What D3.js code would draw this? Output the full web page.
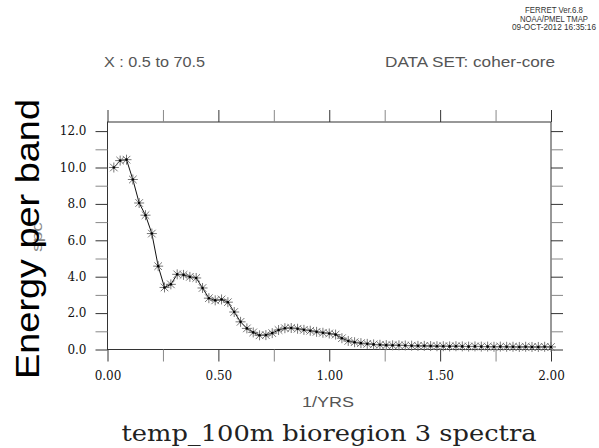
<!DOCTYPE html>
<html><head><meta charset="utf-8">
<script src="https://cdn.jsdelivr.net/npm/d3@7"></script>
<style>html,body{margin:0;padding:0;background:#fff;}svg{display:block;}
.tick text{font-family:"DejaVu Serif",serif !important;font-size:12px;}</style>
</head><body>
<script>
// ---- data ----
const freqIndex = d3.range(1, 71);            // 70 spectral bands (X : 0.5 to 70.5)
const freqStep = 1 / 35;                      // 1/YRS per band
const spcValues = [
  10.0, 10.38, 10.43, 9.34, 8.05, 7.38, 6.37, 4.58, 3.41, 3.58,
  4.13, 4.10, 3.99, 3.93, 3.38, 2.82, 2.70, 2.75, 2.60, 2.06,
  1.52, 1.16, 0.94, 0.78, 0.79, 0.90, 1.07, 1.17, 1.18, 1.14,
  1.08, 1.03, 0.97, 0.92, 0.88, 0.82, 0.62, 0.47, 0.40, 0.35,
  0.31, 0.28, 0.26, 0.24, 0.23, 0.23, 0.22, 0.21, 0.20, 0.20,
  0.19, 0.18, 0.18, 0.17, 0.18, 0.17, 0.16, 0.17, 0.16, 0.16,
  0.15, 0.16, 0.15, 0.15, 0.14, 0.15, 0.14, 0.14, 0.15, 0.14
];
const xTicks = [0, 0.25, 0.5, 0.75, 1.0, 1.25, 1.5, 1.75, 2.0];
const xLabels = [0, 0.5, 1.0, 1.5, 2.0];
const yTicks = d3.range(0, 13, 1);
const yLabels = [0, 2, 4, 6, 8, 10, 12];
const title = "temp_100m bioregion 3 spectra";
const xAxisLabel = "1/YRS";
const yAxisLabel = "spc";
const overlayLabel = "Energy per band";
const headerLeft = "X : 0.5 to 70.5";
const headerRight = "DATA SET: coher-core";
const ferretLines = ["FERRET  Ver.6.8", "NOAA/PMEL TMAP", "09-OCT-2012 16:35:16"];

const W = 599, H = 448;
const L = 107.5, R = 551, T = 122, B = 349.5;

const svg = d3.select("body").append("svg").attr("width", W).attr("height", H);

const x = d3.scaleLinear().domain([0, 2]).range([L, R]);
const y = d3.scaleLinear().domain([0, 12.5]).range([B, T]);

const data = freqIndex.map((k, i) => ({ f: k * freqStep, v: spcValues[i] }));

// frame
svg.append("rect").attr("x", L).attr("y", T).attr("width", R - L).attr("height", B - T)
  .attr("fill", "none").attr("stroke", "#333").attr("stroke-width", 1);

const isMajorX = d => xLabels.some(v => Math.abs(v - d) < 1e-9);
const isMajorY = d => yLabels.includes(d);
const serif = "DejaVu Serif";

function styleAxis(g, major) {
  g.attr("font-family", serif).attr("font-size", 12);
  g.select(".domain").remove();
  g.selectAll(".tick line").attr("stroke", d => major(d) ? "#333" : "#888");
  g.selectAll(".tick text").attr("font-family", serif).attr("fill", "#111");
}

svg.append("g").attr("transform", `translate(0,${B})`)
  .call(d3.axisBottom(x).tickValues(xTicks).tickSize(12).tickPadding(10)
    .tickFormat(d => isMajorX(d) ? d3.format(".2f")(d) : ""))
  .call(g => styleAxis(g, isMajorX));
svg.append("g").attr("transform", `translate(0,${T})`)
  .call(d3.axisTop(x).tickValues(xTicks).tickSize(12).tickFormat(""))
  .call(g => styleAxis(g, isMajorX));
svg.append("g").attr("transform", `translate(${L},0)`)
  .call(d3.axisLeft(y).tickValues(yTicks).tickSize(12).tickPadding(9)
    .tickFormat(d => isMajorY(d) ? d3.format(".1f")(d) : ""))
  .call(g => styleAxis(g, isMajorY));
svg.append("g").attr("transform", `translate(${R},0)`)
  .call(d3.axisRight(y).tickValues(yTicks).tickSize(12).tickFormat(""))
  .call(g => styleAxis(g, isMajorY));

// line
svg.append("path").datum(data)
  .attr("d", d3.line().x(d => x(d.f)).y(d => y(d.v)))
  .attr("fill", "none").attr("stroke", "#111").attr("stroke-width", 1);

// asterisk markers
const s = 5, sd = 3.8;
const mk = svg.append("g").selectAll("g").data(data).join("g")
  .attr("transform", d => `translate(${x(d.f)},${y(d.v)})`);
[[0, -s, 0, s], [-sd, -sd, sd, sd], [-sd, sd, sd, -sd], [-s, 0, s, 0]].forEach(c => {
  mk.append("line").attr("x1", c[0]).attr("y1", c[1]).attr("x2", c[2]).attr("y2", c[3])
    .attr("stroke", "#777").attr("stroke-width", 1);
});
mk.append("circle").attr("r", 1.3).attr("fill", "#000");

// texts
const sans = "'Liberation Sans', Arial, sans-serif";
svg.append("text").attr("x", 328).attr("y", 407).attr("text-anchor", "middle")
  .attr("font-family", sans).attr("font-size", 14).attr("fill", "#555")
  .attr("textLength", 52).attr("lengthAdjust", "spacingAndGlyphs").text(xAxisLabel);
svg.append("text").attr("x", 329).attr("y", 441).attr("text-anchor", "middle")
  .attr("font-family", serif).attr("font-size", 22).attr("fill", "#222")
  .attr("textLength", 415).attr("lengthAdjust", "spacingAndGlyphs").text(title);

svg.append("text").attr("x", 104).attr("y", 67)
  .attr("font-family", sans).attr("font-size", 14).attr("fill", "#555")
  .attr("textLength", 101).attr("lengthAdjust", "spacingAndGlyphs").text(headerLeft);
svg.append("text").attr("x", 385).attr("y", 67)
  .attr("font-family", sans).attr("font-size", 14).attr("fill", "#555")
  .attr("textLength", 170).attr("lengthAdjust", "spacingAndGlyphs").text(headerRight);

const ferretLen = [58, 68, 84];
const ferretCenter = 554;
ferretLines.forEach((t, i) => {
  svg.append("text").attr("x", ferretCenter).attr("y", 13 + i * 8.5).attr("text-anchor", "middle")
    .attr("font-family", sans).attr("font-size", 8.5).attr("fill", "#333")
    .attr("textLength", ferretLen[i]).attr("lengthAdjust", "spacingAndGlyphs").text(t);
});

svg.append("text").attr("transform", "translate(42,237) rotate(-90)").attr("text-anchor", "middle")
  .attr("font-family", sans).attr("font-size", 14).attr("fill", "#888")
  .attr("textLength", 30).attr("lengthAdjust", "spacingAndGlyphs").text(yAxisLabel);
svg.append("text").attr("transform", "translate(39,239) rotate(-90)").attr("text-anchor", "middle")
  .attr("font-family", sans).attr("font-size", 33).attr("fill", "#000")
  .attr("textLength", 280).attr("lengthAdjust", "spacingAndGlyphs").text(overlayLabel);
</script>
</body></html>
